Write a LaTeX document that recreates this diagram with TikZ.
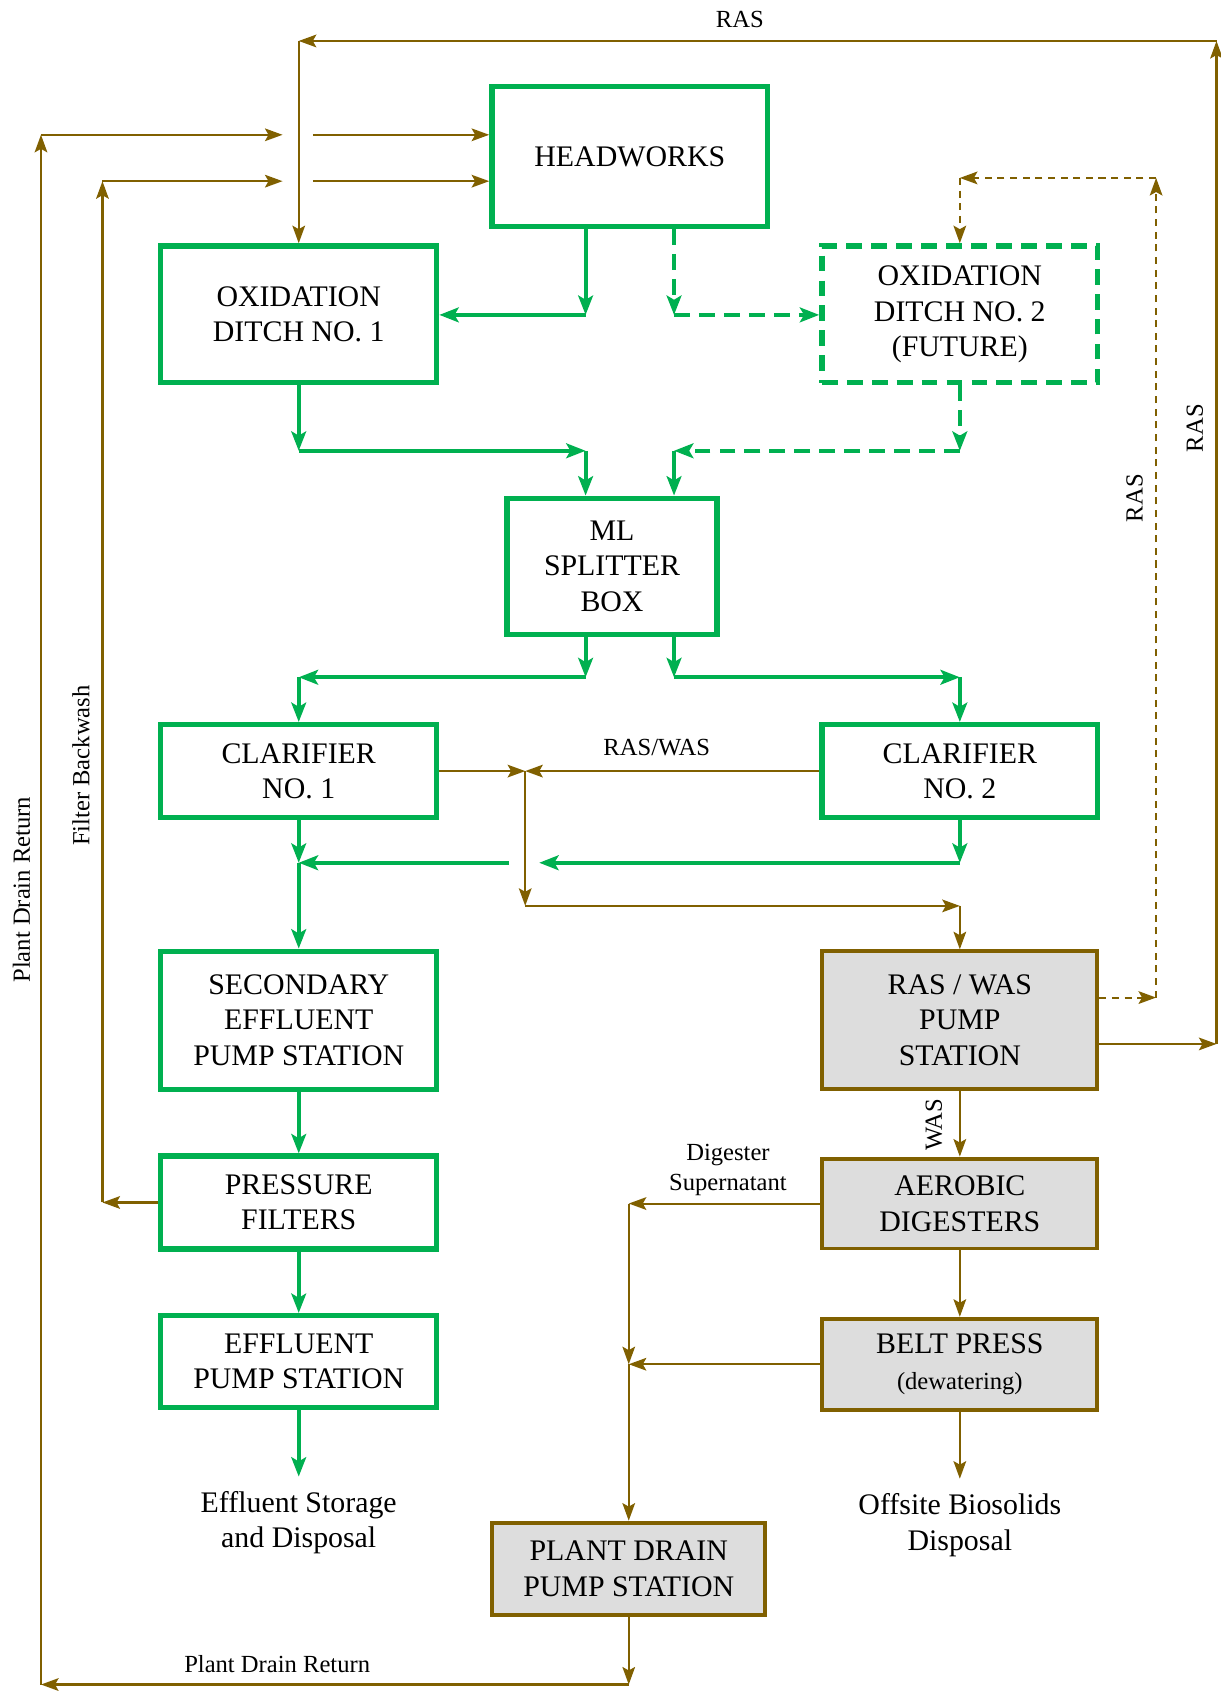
\documentclass[tikz,border=0pt]{standalone}
\usepackage{fontspec}
\setmainfont{Liberation Serif}
\usetikzlibrary{arrows.meta,positioning}
\definecolor{plantgreen}{RGB}{0,176,80}
\definecolor{sludge}{RGB}{128,96,0}
\definecolor{boxgray}{RGB}{221,221,221}

\begin{document}
\begin{tikzpicture}[x=0.010786cm, y=-0.010786cm,
    unit/.style={draw=plantgreen, line width=1.5pt, fill=white, align=center,
        inner sep=0pt, font=\fontsize{8.5}{10.1}\selectfont},
    solids/.style={draw=sludge, line width=1.1pt, fill=boxgray, align=center,
        inner sep=0pt, font=\fontsize{8.5}{10.1}\selectfont},
    future/.style={dash pattern=on 4.5pt off 2.6pt},
    liq/.style={draw=plantgreen, line width=1.15pt,
        -{Stealth[length=5.5pt,width=4.2pt,inset=1.2pt]}},
    sl/.style={draw=sludge, line width=0.6pt,
        -{Stealth[length=5pt,width=3.6pt,inset=1pt]}},
    sldash/.style={dash pattern=on 2pt off 1.6pt},
    note/.style={font=\fontsize{7}{8.6}\selectfont, align=center, inner sep=0pt},
    dest/.style={font=\fontsize{8.5}{10.1}\selectfont, align=center, inner sep=4pt}]
    \useasboundingbox (0,0) rectangle (1132,1568);

    % process units
    \node[unit, minimum width=2.76cm, minimum height=1.40cm] (hw) at (584,145) {HEADWORKS};
    \node[unit, minimum width=2.76cm, minimum height=1.37cm] (ox1) at (277,291.5) {OXIDATION\\DITCH NO. 1};
    \node[unit, future, minimum width=2.76cm, minimum height=1.37cm] (ox2) at (890,291.5) {OXIDATION\\DITCH NO. 2\\(FUTURE)};
    \node[unit, minimum width=2.10cm, minimum height=1.36cm] (ml) at (567.5,525) {ML\\SPLITTER\\BOX};
    \node[unit, minimum width=2.76cm, minimum height=0.93cm] (c1) at (277,715) {CLARIFIER\\NO. 1};
    \node[unit, minimum width=2.76cm, minimum height=0.93cm] (c2) at (890,715) {CLARIFIER\\NO. 2};
    \node[unit, minimum width=2.76cm, minimum height=1.38cm] (sec) at (277,946) {SECONDARY\\EFFLUENT\\PUMP STATION};
    \node[unit, minimum width=2.76cm, minimum height=0.93cm] (pf) at (277,1115) {PRESSURE\\FILTERS};
    \node[unit, minimum width=2.76cm, minimum height=0.92cm] (eps) at (277,1262.5) {EFFLUENT\\PUMP STATION};
    \node[dest] (effout) at (277,1412) {Effluent Storage\\and Disposal};

    % solids handling
    \node[solids, minimum width=2.75cm, minimum height=1.38cm] (pump) at (890,946) {RAS / WAS\\PUMP\\STATION};
    \node[solids, minimum width=2.75cm, minimum height=0.90cm] (aer) at (890,1116) {AEROBIC\\DIGESTERS};
    \node[solids, minimum width=2.75cm, minimum height=0.91cm] (bp) at (890,1265) {BELT PRESS\\{\fontsize{7}{8.6}\selectfont(dewatering)}};
    \node[dest] (bioout) at (890,1414) {Offsite Biosolids\\Disposal};
    \node[solids, minimum width=2.73cm, minimum height=0.92cm] (pdps) at (583,1454.5) {PLANT DRAIN\\PUMP STATION};

    % corners
    \coordinate (hwA) at (543,292);
    \coordinate (hwB) at (625,292);
    \coordinate (o1a) at (277,418);
    \coordinate (o1b) at (543,418);
    \coordinate (o2a) at (890,418);
    \coordinate (o2b) at (625,418);
    \coordinate (m1a) at (543,628);
    \coordinate (m1b) at (277,628);
    \coordinate (m2a) at (625,628);
    \coordinate (m2b) at (890,628);
    \coordinate (ceL) at (277,800);
    \coordinate (ceR) at (890,800);
    \coordinate (ceG1) at (500,800);
    \coordinate (ceG2) at (472,800);
    \coordinate (rw) at (487,715);
    \coordinate (rwB) at (487,840);
    \coordinate (rwR) at (890,840);
    \coordinate (rasR) at (1128,968);
    \coordinate (rasTR) at (1128,38);
    \coordinate (rasTL) at (277,38);
    \coordinate (fdR) at (1072,925);
    \coordinate (fdT) at (1072,165);
    \coordinate (fdL) at (890,165);
    \coordinate (sn) at (583,1116);
    \coordinate (pdB) at (583,1562);
    \coordinate (pdBL) at (38,1562);
    \coordinate (pdTL) at (38,125);
    \coordinate (pdG1) at (262,125);
    \coordinate (pdG2) at (290,125);
    \coordinate (fbT) at (95,168);
    \coordinate (fbG1) at (262,168);
    \coordinate (fbG2) at (290,168);

    % liquid train
    \draw[liq] (hw.south -| hwA) -- (hwA);
    \draw[liq] (hwA) -- (ox1.east |- hwA);
    \draw[liq, future] (hw.south -| hwB) -- (hwB);
    \draw[liq, future] (hwB) -- (ox2.west |- hwB);
    \draw[liq] (ox1.south) -- (o1a);
    \draw[liq] (o1a) -- (o1b);
    \draw[liq] (o1b) -- (ml.north -| o1b);
    \draw[liq, future] (ox2.south) -- (o2a);
    \draw[liq, future] (o2a) -- (o2b);
    \draw[liq] (o2b) -- (ml.north -| o2b);
    \draw[liq] (ml.south -| m1a) -- (m1a);
    \draw[liq] (m1a) -- (m1b);
    \draw[liq] (m1b) -- (c1.north);
    \draw[liq] (ml.south -| m2a) -- (m2a);
    \draw[liq] (m2a) -- (m2b);
    \draw[liq] (m2b) -- (c2.north);
    \draw[liq] (c1.south) -- (ceL);
    \draw[liq] (c2.south) -- (ceR);
    \draw[liq] (ceR) -- (ceG1);
    \draw[liq] (ceG2) -- (ceL);
    \draw[liq] (ceL) -- (sec.north);
    \draw[liq] (sec.south) -- (pf.north);
    \draw[liq] (pf.south) -- (eps.north);
    \draw[liq] (eps.south) -- (effout.north);

    % RAS / WAS
    \draw[sl] (c1.east) -- (rw);
    \draw[sl] (c2.west) -- (rw);
    \draw[sl] (rw) -- (rwB);
    \draw[sl] (rwB) -- (rwR);
    \draw[sl] (rwR) -- (pump.north);
    \draw[sl] (pump.east |- rasR) -- (rasR);
    \draw[sl] (rasR) -- (rasTR);
    \draw[sl] (rasTR) -- (rasTL);
    \draw[sl] (rasTL) -- (ox1.north);
    \draw[sl, sldash] (pump.east |- fdR) -- (fdR);
    \draw[sl, sldash] (fdR) -- (fdT);
    \draw[sl, sldash] (fdT) -- (fdL);
    \draw[sl, sldash] (fdL) -- (ox2.north);
    \draw[sl] (pump.south) -- (aer.north);
    \draw[sl] (aer.south) -- (bp.north);
    \draw[sl] (bp.south) -- (bioout.north);

    % returns
    \draw[sl] (aer.west) -- (aer.west -| sn);
    \draw[sl] (aer.west -| sn) -- (bp.west -| sn);
    \draw[sl] (bp.west) -- (bp.west -| sn);
    \draw[sl] (bp.west -| sn) -- (pdps.north);
    \draw[sl] (pdps.south) -- (pdB);
    \draw[sl] (pdB) -- (pdBL);
    \draw[sl] (pdBL) -- (pdTL);
    \draw[sl] (pdTL) -- (pdG1);
    \draw[sl] (pdG2) -- (hw.west |- pdG2);
    \draw[sl] (pf.west) -- (pf.west -| fbT);
    \draw[sl] (pf.west -| fbT) -- (fbT);
    \draw[sl] (fbT) -- (fbG1);
    \draw[sl] (fbG2) -- (hw.west |- fbG2);

    % labels
    \node[note] (lRAStop) at (686,18) {RAS};
    \node[note, rotate=90] (lRASfut) at (1052,462) {RAS};
    \node[note, rotate=90] (lRASret) at (1108,397) {RAS};
    \node[note] (lRASWAS) at (609,693) {RAS/WAS};
    \node[note, rotate=90] (lWAS) at (866,1043) {WAS};
    \node[note] (lSuper) at (675,1085) {Digester\\Supernatant};
    \node[note] (lPDRbot) at (257,1543) {Plant Drain Return};
    \node[note, rotate=90] (lPDRside) at (20,825) {Plant Drain Return};
    \node[note, rotate=90] (lFB) at (75,710) {Filter Backwash};
\end{tikzpicture}
\end{document}
